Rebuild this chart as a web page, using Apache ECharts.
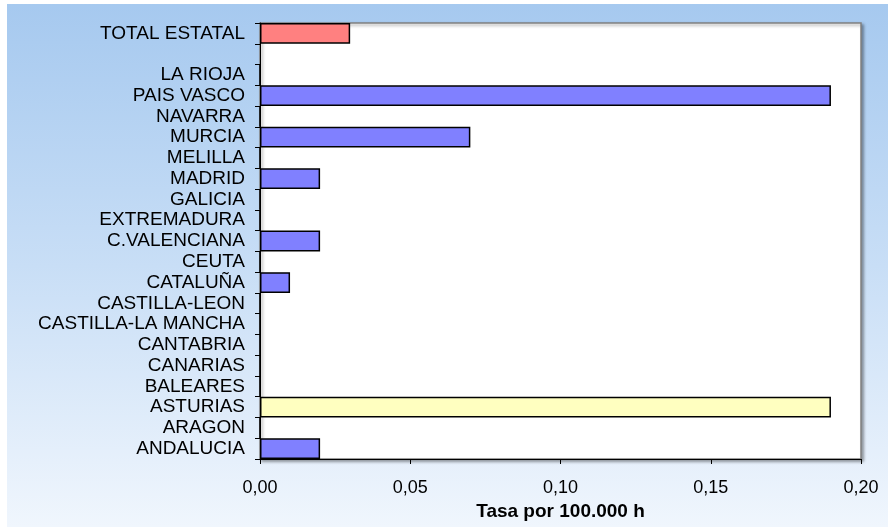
<!DOCTYPE html>
<html>
<head>
<meta charset="utf-8">
<script src="https://cdn.jsdelivr.net/npm/echarts@6/dist/echarts.min.js"></script>
<style>
  html, body { margin: 0; padding: 0; background: #fff; }
  #chart { width: 888px; height: 527px; }
</style>
</head>
<body>
<div id="chart"></div>
<script>
// Tasa por 100.000 h por comunidad autónoma

const regiones = [
  'ANDALUCIA', 'ARAGON', 'ASTURIAS', 'BALEARES', 'CANARIAS', 'CANTABRIA',
  'CASTILLA-LA MANCHA', 'CASTILLA-LEON', 'CATALUÑA', 'CEUTA', 'C.VALENCIANA',
  'EXTREMADURA', 'GALICIA', 'MADRID', 'MELILLA', 'MURCIA', 'NAVARRA',
  'PAIS VASCO', 'LA RIOJA', '', 'TOTAL ESTATAL'
];

const tasas = [
  0.02, 0, 0.19, 0, 0, 0,
  0, 0, 0.01, 0, 0.02,
  0, 0, 0.02, 0, 0.07, 0,
  0.19, 0, null, 0.03
];

const xTicks = [0, 0.05, 0.10, 0.15, 0.20];

// colores especiales
const colorBase = '#8080ff';
const colorEspecial = {
  'TOTAL ESTATAL': '#ff8080',
  'ASTURIAS': '#ffffc0'
};

const chart = echarts.init(document.getElementById('chart'));

const option = {
  animation: false,
  textStyle: { fontFamily: 'Liberation Sans, Arial, sans-serif' },
  graphic: [
    {
      type: 'rect',
      z: -10,
      silent: true,
      shape: { x: 7, y: 4, width: 881, height: 523 },
      style: {
        fill: new echarts.graphic.LinearGradient(0, 0, 0, 1, [
          { offset: 0, color: '#a6c9ef' },
          { offset: 0.5, color: '#c8def6' },
          { offset: 1, color: '#f0f6fd' }
        ])
      }
    }
  ],
  grid: {
    left: 260,
    right: 27,
    top: 23,
    bottom: 68,
    show: true,
    backgroundColor: '#ffffff',
    borderColor: '#808080',
    borderWidth: 1.5,
    shadowColor: 'rgba(0,0,0,0.35)',
    shadowBlur: 3,
    shadowOffsetX: 2,
    shadowOffsetY: 2
  },
  xAxis: {
    type: 'value',
    min: xTicks[0],
    max: xTicks[xTicks.length - 1],
    interval: 0.05,
    name: 'Tasa por 100.000 h',
    nameLocation: 'middle',
    nameGap: 42,
    nameTextStyle: { fontSize: 19, fontWeight: 'bold', color: '#000' },
    axisLine: { show: true, lineStyle: { color: '#000', width: 1 } },
    axisTick: { show: true, length: 5, lineStyle: { color: '#000' } },
    axisLabel: {
      fontSize: 18,
      color: '#000',
      margin: 20,
      formatter: v => v.toFixed(2).replace('.', ',')
    },
    splitLine: { show: false }
  },
  yAxis: {
    type: 'category',
    data: regiones,
    axisLine: { show: true, lineStyle: { color: '#000', width: 1 } },
    axisTick: { show: true, length: 5, alignWithLabel: false, lineStyle: { color: '#000' } },
    axisLabel: { fontSize: 19, color: '#000', margin: 15, interval: 0 },
    splitLine: { show: false }
  },
  series: [
    {
      type: 'bar',
      barCategoryGap: '0%',
      data: tasas.map((v, i) => ({
        value: v,
        itemStyle: {
          color: colorEspecial[regiones[i]] || colorBase,
          borderColor: '#000',
          borderWidth: 1.5
        }
      }))
    }
  ]
};

chart.setOption(option);
</script>
</body>
</html>
